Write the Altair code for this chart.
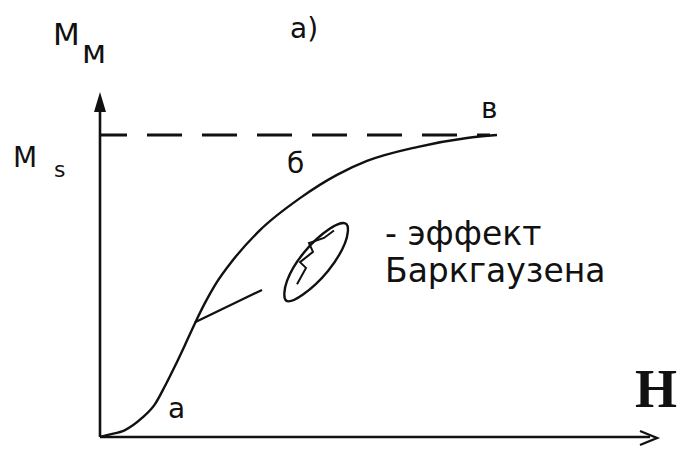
import altair as alt
import pandas as pd

# Initial magnetization curve M(H), normalised so that M_s = 1
H_curve = [0, 0.16, 0.5, 0.84, 1.1, 1.3, 1.5, 1.7, 1.9, 2.1, 2.3, 2.66, 3.2, 4.0, 4.74, 5.34, 6.34, 7.34, 7.94]
M_curve = [0, 0.007, 0.023, 0.063, 0.109, 0.169, 0.235, 0.305, 0.377, 0.444, 0.503, 0.586, 0.685, 0.791, 0.868, 0.914, 0.960, 0.990, 1.0]

# Saturation level
M_s = 1.0
H_sat_end = 7.8

# Magnified piece of the curve (Barkhausen jumps): outline and inner step line
H_loop = [4.93, 4.90, 4.56, 4.06, 3.72, 3.74, 4.08, 4.60]
M_loop = [0.705, 0.642, 0.550, 0.472, 0.452, 0.517, 0.611, 0.690]
H_steps = [3.94, 4.12, 4.00, 4.26, 4.18, 4.48, 4.68]
M_steps = [0.506, 0.560, 0.579, 0.613, 0.642, 0.659, 0.684]

# Leader from the curve to the magnified piece
H_leader = [1.9, 3.24]
M_leader = [0.380, 0.487]

# Axis extents
H_axis_end = 11.0
M_axis_end = 1.10

# Scale domains
X_DOM = [-2.0, 11.62]
Y_DOM = [-0.0596, 1.447]

INK = "#111111"

xs = alt.Scale(domain=X_DOM, nice=False, zero=False)
ys = alt.Scale(domain=Y_DOM, nice=False, zero=False)


def enc(**kw):
    return dict(
        x=alt.X("H:Q", scale=xs, axis=None),
        y=alt.Y("M:Q", scale=ys, axis=None),
        **kw,
    )


# Axes
axes_df = pd.DataFrame({
    "H": [0, 0, 0, H_axis_end],
    "M": [M_axis_end, 0, 0, 0],
    "seg": ["y", "y", "x", "x"],
    "i": [0, 1, 0, 1],
})
axes = alt.Chart(axes_df).mark_line(color=INK, strokeWidth=2.6).encode(
    **enc(detail="seg:N", order="i:Q")
)

# Arrow heads
y_arrow = alt.Chart(pd.DataFrame({"H": [0], "M": [1.109]})).mark_point(
    shape="M0,-1L0.6,1L-0.6,1Z", size=400, filled=True, color=INK, opacity=1
).encode(**enc())

x_arrow_df = pd.DataFrame({
    "H": [10.8, 11.14, 10.8],
    "M": [0.0199, -0.0033, -0.0265],
    "i": [0, 1, 2],
})
x_arrow = alt.Chart(x_arrow_df).mark_line(color=INK, strokeWidth=2.4).encode(
    **enc(order="i:Q")
)

# Saturation level (dashed)
sat = alt.Chart(pd.DataFrame({"H": [0, H_sat_end], "M": [M_s, M_s]})).mark_line(
    color=INK, strokeWidth=3, strokeDash=[35, 20], strokeDashOffset=8
).encode(**enc())

# Magnetization curve
curve = alt.Chart(pd.DataFrame({"H": H_curve, "M": M_curve})).mark_line(
    color=INK, strokeWidth=2.4, interpolate="monotone"
).encode(**enc())

leader = alt.Chart(pd.DataFrame({"H": H_leader, "M": M_leader})).mark_line(
    color=INK, strokeWidth=2.2
).encode(**enc())

loop = alt.Chart(pd.DataFrame({"H": H_loop, "M": M_loop, "i": list(range(len(H_loop)))})).mark_line(
    color=INK, strokeWidth=2.4, interpolate="cardinal-closed"
).encode(**enc(order="i:Q"))

steps = alt.Chart(pd.DataFrame({"H": H_steps, "M": M_steps, "i": list(range(len(H_steps)))})).mark_line(
    color=INK, strokeWidth=2.0
).encode(**enc(order="i:Q"))

# Text annotations: (text, H, M, font size, font, weight)
SANS = "DejaVu Sans"
annotations = [
    ("M", -0.94, 1.298, 31, SANS, "normal"),
    ("м", -0.36, 1.238, 32, SANS, "normal"),
    ("M", -1.74, 0.894, 28, SANS, "normal"),
    ("s", -0.92, 0.861, 22, SANS, "normal"),
    ("а)", 3.8, 1.321, 28, SANS, "normal"),
    ("б", 3.74, 0.874, 28, SANS, "normal"),
    ("в", 7.62, 1.056, 28, SANS, "normal"),
    ("а", 1.36, 0.063, 28, SANS, "normal"),
    ("- эффект", 5.7, 0.636, 33, SANS, "normal"),
    ("Баркгаузена", 5.7, 0.513, 33, SANS, "normal"),
    ("H", 10.7, 0.099, 54, "Liberation Serif", "bold"),
]

texts = []
for txt, h, m, fs, font, weight in annotations:
    texts.append(
        alt.Chart(pd.DataFrame({"H": [h], "M": [m], "t": [txt]})).mark_text(
            align="left", baseline="alphabetic", fontSize=fs, font=font,
            fontWeight=weight, color=INK
        ).encode(**enc(text="t:N"))
    )

chart = alt.layer(axes, y_arrow, x_arrow, sat, curve, leader, loop, steps, *texts).properties(
    width=681, height=455, padding=0, autosize=alt.AutoSizeParams(type="none"),
    background="white",
).configure_view(stroke=None)

chart.save("out.html", embed_options={"renderer": "svg", "actions": False})
